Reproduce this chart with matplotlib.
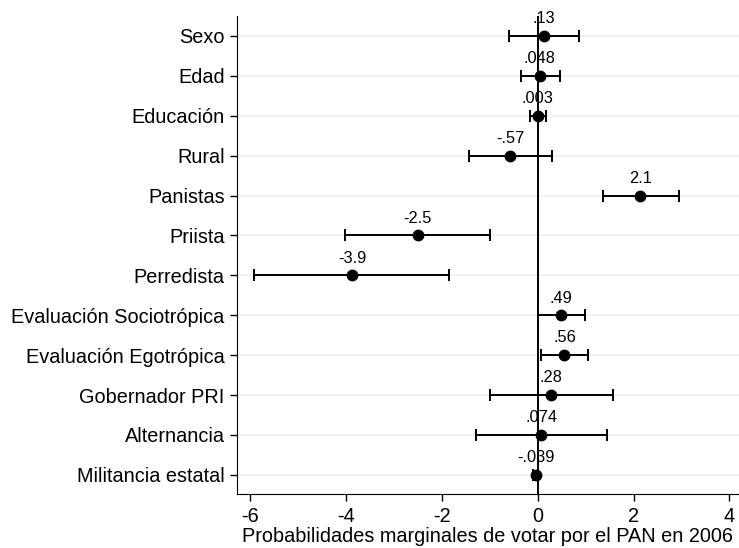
import matplotlib.pyplot as plt

plt.rcParams['font.family'] = ['Liberation Sans', 'DejaVu Sans']

labels = ['Sexo', 'Edad', 'Educación', 'Rural', 'Panistas', 'Priista', 'Perredista',
          'Evaluación Sociotrópica', 'Evaluación Egotrópica', 'Gobernador PRI',
          'Alternancia', 'Militancia estatal']
coef = [0.13, 0.048, 0.003, -0.57, 2.14, -2.5, -3.87, 0.49, 0.56, 0.28, 0.074, -0.039]
lo = [-0.60, -0.35, -0.15, -1.44, 1.36, -4.01, -5.91, 0.01, 0.08, -0.99, -1.29, -0.09]
hi = [0.86, 0.46, 0.175, 0.31, 2.94, -0.99, -1.84, 0.98, 1.06, 1.57, 1.44, 0.01]
txt = ['.13', '.048', '.003', '-.57', '2.1', '-2.5', '-3.9', '.49', '.56', '.28', '.074', '-.039']

fig = plt.figure(figsize=(7.39, 5.48), dpi=100)
ax = fig.add_axes([237/739, 1 - 494/548, 1 - 237/739, (494 - 16)/548])

y = list(range(1, len(labels) + 1))
for yi in y:
    ax.axhline(yi, color='#eaf1f3', lw=1.2, zorder=0)
ax.axvline(0, color='black', lw=1.4, zorder=1)

xerr = [[c - l for c, l in zip(coef, lo)], [h - c for c, h in zip(coef, hi)]]
ax.errorbar(coef, y, xerr=xerr, fmt='o', color='black', ms=7.5, capsize=4,
            elinewidth=1.4, capthick=1.4, zorder=3)
for c, yi, t in zip(coef, y, txt):
    ax.annotate(t, (c, yi), xytext=(0, 7), textcoords='offset points',
                ha='center', va='bottom', fontsize=11.8)

ax.set_yticks(y)
ax.set_yticklabels(labels, fontsize=14.3)
ax.set_ylim(12.48, 0.5)
ax.set_xlim(-6.27, 4.2)
ax.set_xticks([-6, -4, -2, 0, 2, 4])
ax.set_xticklabels(['-6', '-4', '-2', '0', '2', '4'], fontsize=14.3)
ax.tick_params(axis='x', length=5, width=1, pad=4)
ax.tick_params(axis='y', length=5, width=1, pad=4)
ax.set_xlabel('Probabilidades marginales de votar por el PAN en 2006', fontsize=14.3, labelpad=1)
ax.spines['top'].set_visible(False)
ax.spines['right'].set_visible(False)

plt.savefig('out.png', dpi=100)
